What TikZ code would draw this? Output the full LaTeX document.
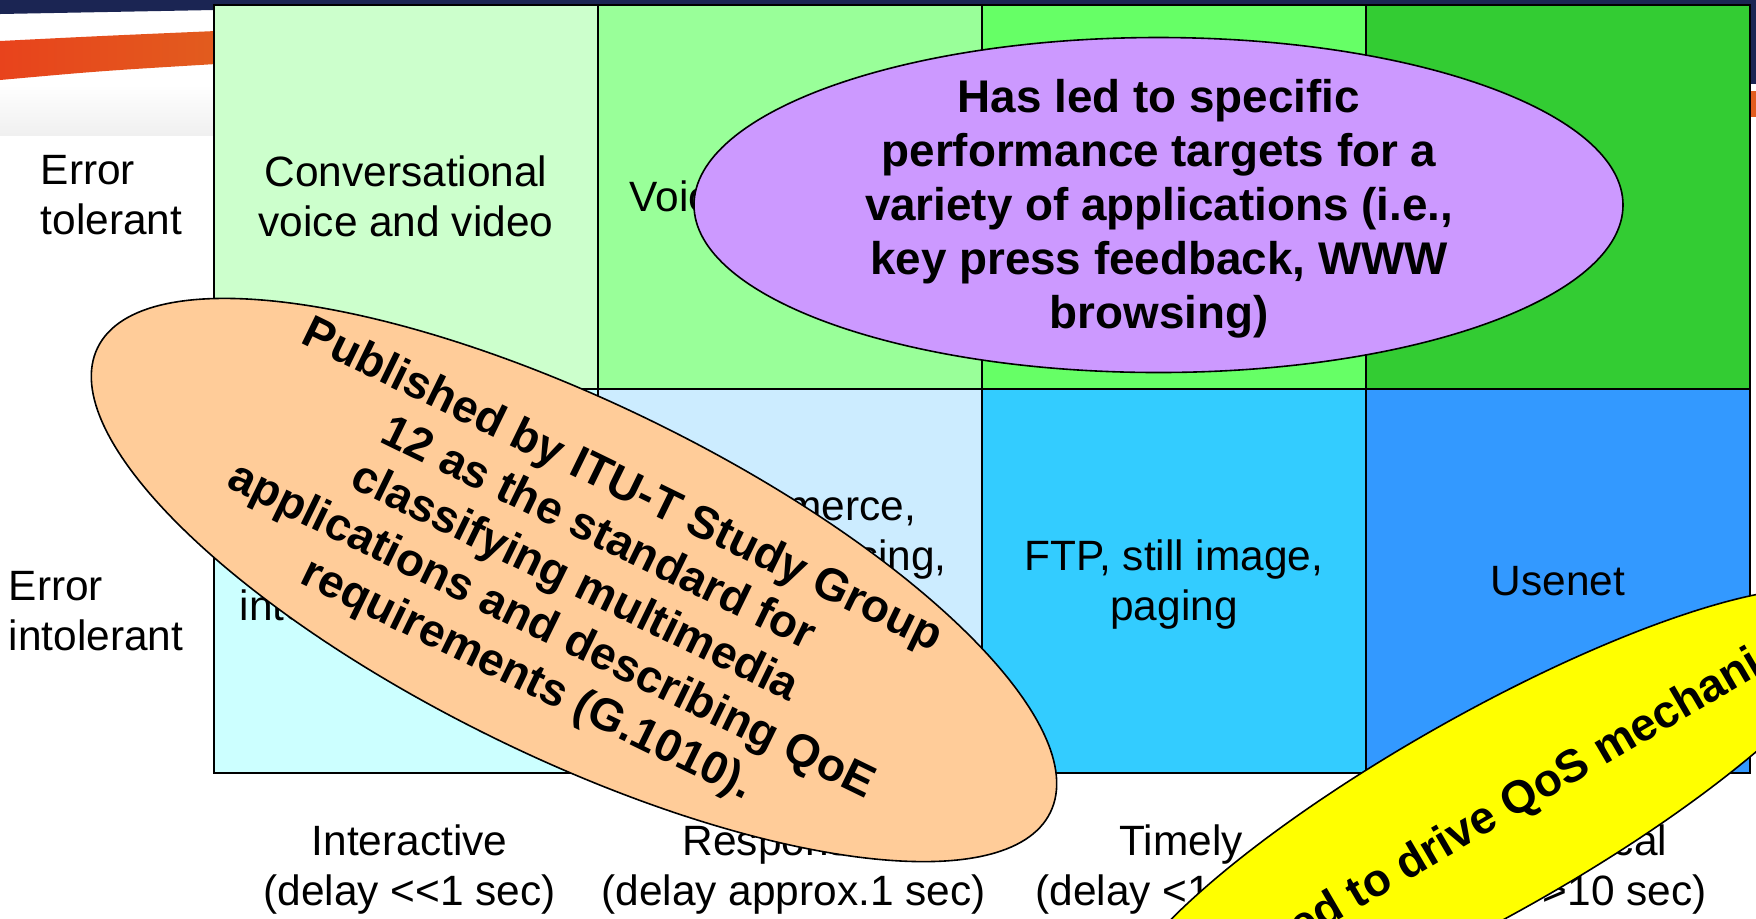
\documentclass[tikz,border=0pt]{standalone}
\usepackage{fontspec}
\setmainfont{Liberation Sans}
\usetikzlibrary{shapes.geometric}
\newcommand\lstr{\rule[-0.212em]{0pt}{1.117em}}
\definecolor{navy}{HTML}{1B2553}
\definecolor{swooshL}{HTML}{E8431C}
\definecolor{swooshR}{HTML}{E25C1E}
\definecolor{cAA}{HTML}{CCFFCC}
\definecolor{cAB}{HTML}{99FF99}
\definecolor{cAC}{HTML}{66FF66}
\definecolor{cAD}{HTML}{33CC33}
\definecolor{cBA}{HTML}{CCFFFF}
\definecolor{cBB}{HTML}{CCECFF}
\definecolor{cBC}{HTML}{33CCFF}
\definecolor{cBD}{HTML}{3399FF}
\definecolor{purp}{HTML}{CC99FF}
\definecolor{orng}{HTML}{FFCC99}
\definecolor{yell}{HTML}{FFFF00}
\begin{document}
\begin{tikzpicture}[x=0.5pt,y=-0.5pt,
  cell/.style={draw=black, line width=0.6pt, anchor=north west, minimum width=192pt, minimum height=192pt, inner sep=0pt, outer sep=0pt},
  ntext/.style={font=\fontsize{21.2pt}{25.2pt}\selectfont, align=center, inner sep=0pt, text=black},
  ltext/.style={ntext, align=left, anchor=west},
  btext/.style={font=\fontsize{22.9pt}{27pt}\selectfont\bfseries, align=center, inner sep=0pt, text=black},
  bubble/.style={ellipse, draw=black, line width=0.8pt, inner sep=0pt},
]
\useasboundingbox (0,0) rectangle (1756,918);
\clip (0,0) rectangle (1756,918);
% background
\fill[white] (0,0) rectangle (1756,918);
\shade[top color=white, bottom color=black!6] (0,85) rectangle (216,135);
\fill[navy] (0,0) -- (1756,0) -- (1756,84) -- (214,10) -- (0,14) -- cycle;
\shade[left color=swooshL, right color=swooshR] (0,41) .. controls (100,36) .. (216,31) -- (216,64) .. controls (100,71) .. (0,80) -- cycle;
\fill[swooshR] (1740,91) rectangle (1756,117);
% grid cells
\node[cell, fill=cAA] (c11) at (214,5) {};
\node[cell, fill=cAB] (c12) at (598,5) {};
\node[cell, fill=cAC] (c13) at (982,5) {};
\node[cell, fill=cAD] (c14) at (1366,5) {};
\node[cell, fill=cBA] (c21) at (214,389) {};
\node[cell, fill=cBB] (c22) at (598,389) {};
\node[cell, fill=cBC] (c23) at (982,389) {};
\node[cell, fill=cBD] (c24) at (1366,389) {};
% cell texts
\node[ntext] (t11) at (c11.center) {\lstr Conversational\\\lstr voice and video};
\node[ntext] (t12) at (c12.center) {\lstr Voice messaging};
\node[ntext] (t21) at (406,606.2) {\lstr interactive games};
\node[ntext] (t22) at (790,530.6) {\lstr E-commerce,\\\lstr WWW browsing,};
\node[ntext] (t23) at (c23.center) {\lstr FTP, still image,\\\lstr paging};
\node[ntext] (t24) at (c24.center) {\lstr Usenet};
% side labels
\node[ltext] (et) at (40.5,194.9) {\lstr Error\\\lstr tolerant};
\node[ltext] (ei) at (8.5,611) {\lstr Error\\\lstr intolerant};
% bottom labels
\node[ntext] (b1) at (409.5,865.5) {\lstr Interactive\\\lstr (delay <{}<1 sec)};
\node[ntext] (b2) at (793.5,865.5) {\lstr Responsive\\\lstr (delay approx.1 sec)};
\node[ntext] (b3) at (1181,865.5) {\lstr Timely\\\lstr (delay <10 sec)};
\node[ntext] (b4) at (1561,865.5) {\lstr Non-critical\\\lstr (delay >10 sec)};
% purple bubble
\node[bubble, fill=purp, minimum width=464.5pt, minimum height=167.5pt] (pe) at (1158.5,205) {};
\node[btext] (ptx) at (1159,205) {\lstr Has led to specific\\\lstr performance targets for a\\\lstr variety of applications (i.e.,\\\lstr key press feedback, WWW\\\lstr browsing)};
% orange bubble
\node[bubble, fill=orng, rotate=-26, minimum width=530pt, minimum height=177pt] (oe) at (574,580) {};
\node[btext, rotate=-26] (otx) at (576,580) {\lstr Published by ITU-T Study Group\\\lstr 12 as the standard for\\\lstr classifying multimedia\\\lstr applications and describing QoE\\\lstr requirements (G.1010).};
% yellow bubble
\node[bubble, fill=yell, rotate=29.5, minimum width=425pt, minimum height=100pt] (ye) at (1486,815) {};
\node[btext, rotate=30.3, anchor=base] (ytx) at (1547,799) {Used to drive QoS mechanisms};
\end{tikzpicture}
\end{document}
